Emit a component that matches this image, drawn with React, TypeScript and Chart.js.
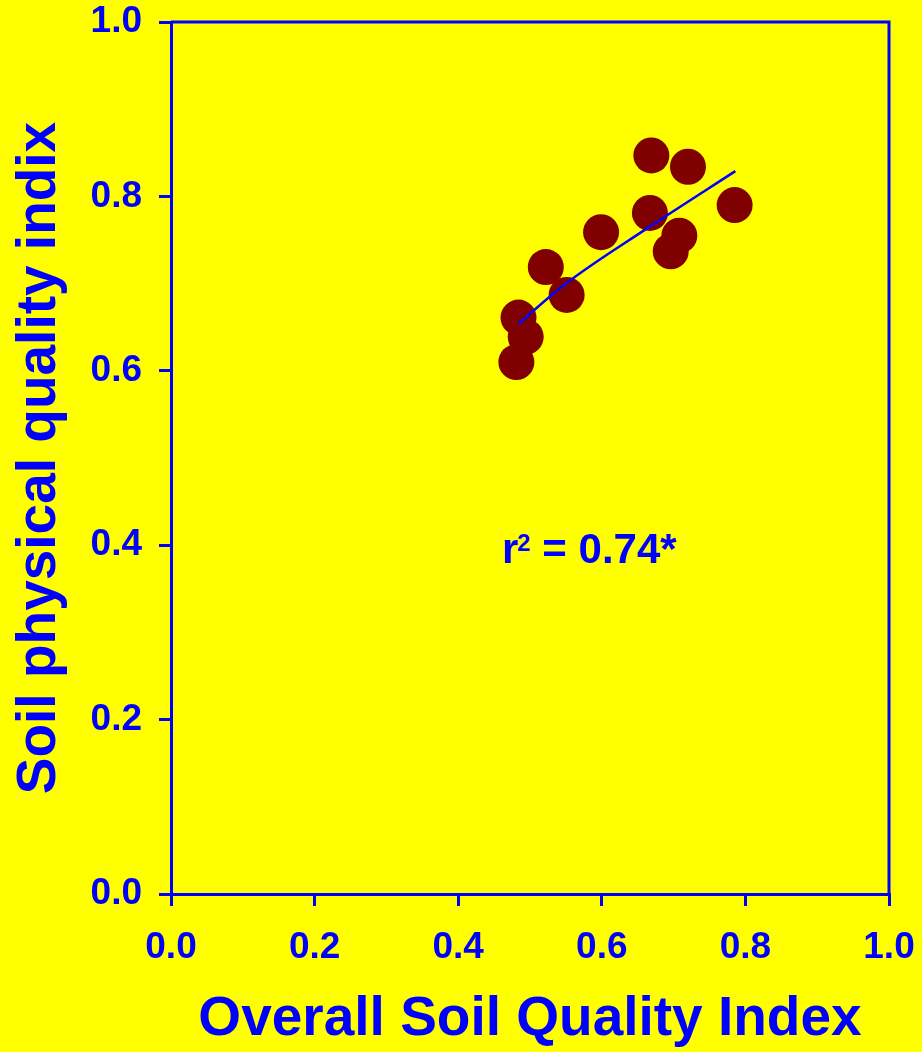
import React, { useEffect, useRef } from "react";
import { Chart, registerables } from "chart.js";

Chart.register(...registerables);

// Data
const overallSQI = [0.669, 0.720, 0.785, 0.667, 0.708, 0.696, 0.599, 0.522, 0.551, 0.484, 0.494, 0.481];
const physicalSQI = [0.847, 0.834, 0.790, 0.781, 0.755, 0.737, 0.759, 0.719, 0.687, 0.661, 0.639, 0.610];

// Fitted curve, sampled from the figure
const fitX = [0.484, 0.55, 0.6625, 0.786];
const fitY = [0.654, 0.700, 0.763, 0.829];

const xTickLabels = ["0.0", "0.2", "0.4", "0.6", "0.8", "1.0"];
const yTickLabels = ["0.0", "0.2", "0.4", "0.6", "0.8", "1.0"];

const xTitle = "Overall Soil Quality Index";
const yTitle = "Soil physical quality indix";
const r2Value = "0.74*";

const BLUE = "#0000ff";
const DOT = "#800000";
const FONT = "'Liberation Sans', Arial, Helvetica, sans-serif";

export default function App() {
  const ref = useRef<HTMLCanvasElement | null>(null);

  useEffect(() => {
    if (!ref.current) return;

    const framePlugin = {
      id: "frame",
      afterDraw(chart: any) {
        const { ctx, chartArea } = chart;
        ctx.save();
        ctx.strokeStyle = BLUE;
        ctx.lineWidth = 3;
        ctx.beginPath();
        ctx.moveTo(chartArea.left, chartArea.top);
        ctx.lineTo(chartArea.right, chartArea.top);
        ctx.lineTo(chartArea.right, chartArea.bottom);
        ctx.stroke();

        // r² annotation
        const xs = chart.scales.x;
        const ys = chart.scales.y;
        const x0 = xs.getPixelForValue(0.461);
        const yb = ys.getPixelForValue(0.38);
        ctx.fillStyle = BLUE;
        ctx.textBaseline = "alphabetic";
        ctx.textAlign = "left";
        ctx.font = `bold 42px ${FONT}`;
        ctx.fillText("r", x0, yb);
        let x = x0 + ctx.measureText("r").width;
        ctx.font = `bold 24px ${FONT}`;
        ctx.fillText("2", x - 1, yb - 12);
        x += ctx.measureText("2").width - 1;
        ctx.font = `bold 42px ${FONT}`;
        ctx.fillText(" = " + r2Value, x, yb);
        ctx.restore();
      },
    };

    const clearPad = (s: any) => {
      s.paddingTop = 0;
      s.paddingBottom = 0;
      s.paddingLeft = 0;
      s.paddingRight = 0;
    };

    const chart = new Chart(ref.current, {
      type: "scatter",
      data: {
        datasets: [
          {
            type: "line",
            data: fitX.map((v, i) => ({ x: v, y: fitY[i] })),
            borderColor: BLUE,
            borderWidth: 2.5,
            pointRadius: 0,
            showLine: true,
            fill: false,
            cubicInterpolationMode: "monotone",
            order: 0,
          } as any,
          {
            type: "scatter",
            data: overallSQI.map((v, i) => ({ x: v, y: physicalSQI[i] })),
            backgroundColor: DOT,
            borderColor: DOT,
            borderWidth: 0,
            pointRadius: 18,
            order: 1,
          },
        ],
      },
      options: {
        responsive: false,
        animation: false,
        devicePixelRatio: 1,
        layout: { padding: { left: 0, right: 33, top: 22, bottom: 0 } },
        plugins: {
          legend: { display: false },
          tooltip: { enabled: false },
        },
        scales: {
          x: {
            type: "linear",
            min: 0,
            max: 1,
            afterFit: (s: any) => {
              s.height = 158;
              clearPad(s);
            },
            border: { display: true, color: BLUE, width: 3 },
            grid: {
              drawOnChartArea: false,
              drawTicks: true,
              tickLength: 12,
              tickColor: BLUE,
              tickWidth: 3,
              color: BLUE,
              lineWidth: 3,
            },
            ticks: {
              stepSize: 0.2,
              padding: 20,
              color: BLUE,
              font: { family: FONT, size: 37, weight: "bold" },
              callback: (_v: any, i: number) => xTickLabels[i],
              maxRotation: 0,
            },
            title: {
              display: true,
              text: xTitle,
              color: BLUE,
              font: { family: FONT, size: 55, weight: "bold", lineHeight: 1 },
              padding: { top: 0, bottom: 4.5 },
            },
          },
          y: {
            type: "linear",
            min: 0,
            max: 1,
            afterFit: (s: any) => {
              s.width = 171;
              clearPad(s);
            },
            border: { display: true, color: BLUE, width: 3 },
            grid: {
              drawOnChartArea: false,
              drawTicks: true,
              tickLength: 12,
              tickColor: BLUE,
              tickWidth: 3,
              color: BLUE,
              lineWidth: 3,
            },
            ticks: {
              stepSize: 0.2,
              padding: 17,
              color: BLUE,
              font: { family: FONT, size: 37, weight: "bold" },
              callback: (_v: any, i: number) => yTickLabels[i],
            },
            title: {
              display: true,
              text: yTitle,
              color: BLUE,
              font: { family: FONT, size: 55, weight: "bold", lineHeight: 1 },
              padding: { top: 12.5, bottom: 0 },
            },
          },
        },
      },
      plugins: [framePlugin],
    });

    return () => chart.destroy();
  }, []);

  return (
    <div
      style={{
        position: "absolute",
        left: 0,
        top: 0,
        width: 922,
        height: 1052,
        background: "#ffff00",
      }}
    >
      <canvas ref={ref} width={922} height={1052} style={{ display: "block" }} />
    </div>
  );
}
